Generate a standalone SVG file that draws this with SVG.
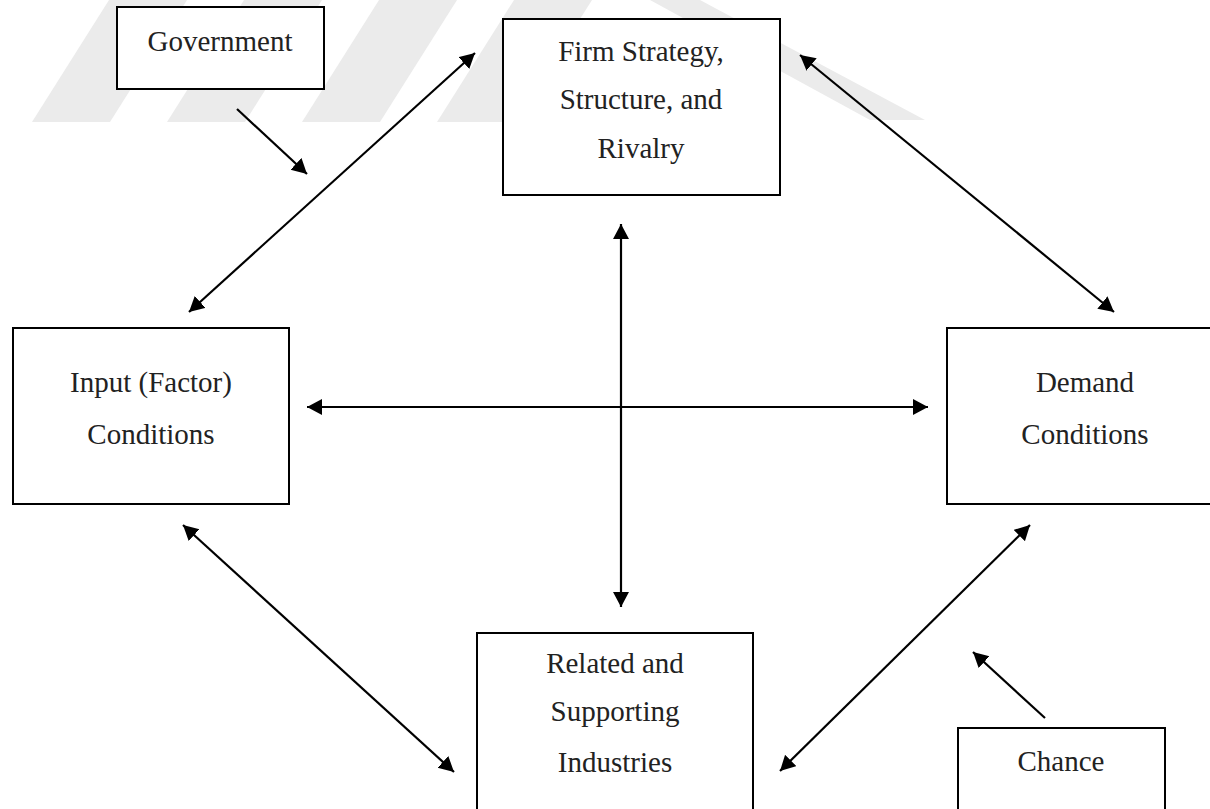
<svg xmlns="http://www.w3.org/2000/svg" width="1210" height="809" viewBox="0 0 1210 809">
  <style>
    .box { fill: #ffffff; stroke: #000000; stroke-width: 2; }
    .lbl { font-family: "Liberation Serif", "Times New Roman", serif; font-size: 29px; fill: #222222; text-anchor: middle; }
    .link { stroke: #000000; stroke-width: 2.2; fill: none; }
    .mark { fill: #ebebeb; }
  </style>
  <defs>
    <marker id="head" markerUnits="userSpaceOnUse" markerWidth="17" markerHeight="17" refX="15" refY="8" orient="auto-start-reverse">
      <path d="M0,0 L15,8 L0,16 Z" fill="#000000"/>
    </marker>
  </defs>

  <rect width="1210" height="809" fill="#ffffff"/>

  <!-- faint background mark -->
  <g id="backdrop">
    <polygon class="mark" points="32,122 110,122 187,0 109,0"/>
    <polygon class="mark" points="167,122 245,122 322,0 244,0"/>
    <polygon class="mark" points="302,122 380,122 457,0 379,0"/>
    <polygon class="mark" points="437,122 515,122 592,0 514,0"/>
    <polygon class="mark" points="650,0 700,0 925,120 870,120"/>
  </g>

  <!-- connectors -->
  <g id="connectors">
    <line class="link" x1="237" y1="109" x2="307" y2="174" marker-end="url(#head)"/>
    <line class="link" x1="189" y1="312" x2="475" y2="53" marker-start="url(#head)" marker-end="url(#head)"/>
    <line class="link" x1="800" y1="55" x2="1114" y2="312" marker-start="url(#head)" marker-end="url(#head)"/>
    <line class="link" x1="621" y1="224" x2="621" y2="607" marker-start="url(#head)" marker-end="url(#head)"/>
    <line class="link" x1="307" y1="407" x2="928" y2="407" marker-start="url(#head)" marker-end="url(#head)"/>
    <line class="link" x1="183" y1="525" x2="454" y2="772" marker-start="url(#head)" marker-end="url(#head)"/>
    <line class="link" x1="1030" y1="525" x2="780" y2="771" marker-start="url(#head)" marker-end="url(#head)"/>
    <line class="link" x1="1045" y1="718" x2="973" y2="652" marker-end="url(#head)"/>
  </g>

  <g id="government">
    <rect class="box" x="117" y="7" width="207" height="82"/>
    <text class="lbl" x="220" y="51">Government</text>
  </g>

  <g id="firm">
    <rect class="box" x="503" y="19" width="277" height="176"/>
    <text class="lbl" x="641" y="61">Firm Strategy,</text>
    <text class="lbl" x="641" y="109">Structure, and</text>
    <text class="lbl" x="641" y="158">Rivalry</text>
  </g>

  <g id="input">
    <rect class="box" x="13" y="328" width="276" height="176"/>
    <text class="lbl" x="151" y="392">Input (Factor)</text>
    <text class="lbl" x="151" y="444">Conditions</text>
  </g>

  <g id="demand">
    <rect class="box" x="947" y="328" width="276" height="176"/>
    <text class="lbl" x="1085" y="392">Demand</text>
    <text class="lbl" x="1085" y="444">Conditions</text>
  </g>

  <g id="related">
    <rect class="box" x="477" y="633" width="276" height="190"/>
    <text class="lbl" x="615" y="673">Related and</text>
    <text class="lbl" x="615" y="721">Supporting</text>
    <text class="lbl" x="615" y="772">Industries</text>
  </g>

  <g id="chance">
    <rect class="box" x="958" y="728" width="207" height="100"/>
    <text class="lbl" x="1061" y="771">Chance</text>
  </g>
</svg>
